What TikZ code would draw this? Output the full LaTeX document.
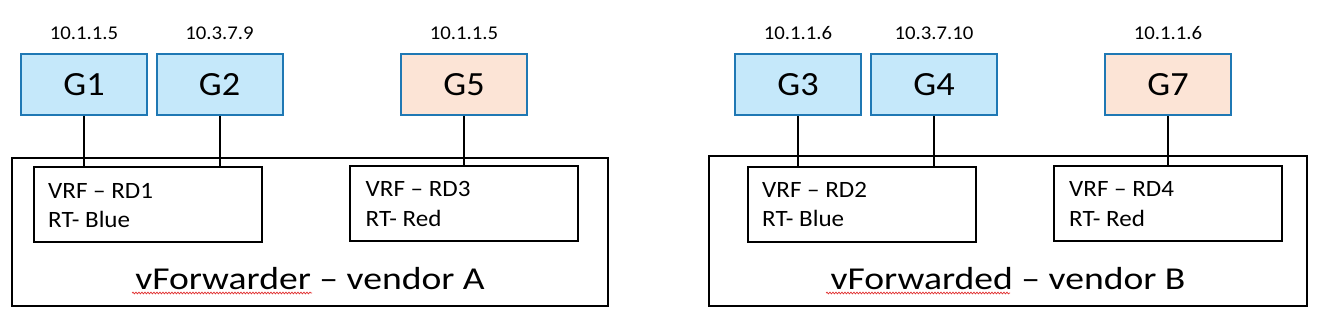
\documentclass[tikz,border=0pt]{standalone}
\usepackage{fontspec}
\setmainfont[FakeStretch=1.07]{Carlito}
\newfontfamily\titlefont[FakeStretch=1.18]{Carlito}
\usetikzlibrary{decorations.pathmorphing}
\definecolor{gblue}{HTML}{C5E8FA}
\definecolor{gpeach}{HTML}{FCE4D6}
\definecolor{gedge}{HTML}{1F78B4}
\definecolor{squig}{HTML}{E03030}
\begin{document}
\begin{tikzpicture}[x=1bp,y=-1bp,
  gbox/.style={draw=gedge,line width=2bp,minimum width=126bp,minimum height=61bp,inner sep=0pt,font=\fontsize{34}{40}\selectfont},
  bluebox/.style={gbox,fill=gblue},
  peachbox/.style={gbox,fill=gpeach},
  iplabel/.style={anchor=base,inner sep=0pt,font=\fontsize{19.5}{23}\selectfont},
  outerbox/.style={draw=black,line width=2bp,minimum width=596bp,minimum height=148bp,inner sep=0pt},
  vrfbox/.style={draw=black,line width=2bp,minimum width=228bp,minimum height=75bp,inner sep=0pt},
  vrftext/.style={anchor=base west,inner sep=0pt,font=\fontsize{23.5}{28}\selectfont},
  titletext/.style={anchor=base,inner sep=0pt,font=\titlefont\fontsize{32}{38}\selectfont},
  conn/.style={draw=black,line width=2bp},
  spell/.style={draw=squig,line width=0.7bp,decorate,decoration={snake,amplitude=0.9bp,segment length=3bp}}
]
\useasboundingbox (0,0) rectangle (1332,325);

% ---------- left panel ----------
\node[outerbox] (va) at (310,232) {};
\node[vrfbox] (rd1) at (148,204.5) {};
\node[vrfbox] (rd3) at (463.5,203) {};
\node[bluebox] (g1) at (84,84.5) {G1};
\node[bluebox] (g2) at (219.5,84.5) {G2};
\node[peachbox] (g5) at (464,84.5) {G5};
\node[iplabel] (ip1) at (84,39) {10.1.1.5};
\node[iplabel] (ip2) at (219.5,39) {10.3.7.9};
\node[iplabel] (ip5) at (464,39) {10.1.1.5};
\node[vrftext] (rd1a) at ([shift={(15,32)}]rd1.north west) {VRF – RD1};
\node[vrftext] (rd1b) at ([shift={(15,61)}]rd1.north west) {RT- Blue};
\node[vrftext] (rd3a) at ([shift={(17,32)}]rd3.north west) {VRF – RD3};
\node[vrftext] (rd3b) at ([shift={(17,62)}]rd3.north west) {RT- Red};
\node[titletext] (ta) at (310,289) {vForwarder – vendor A};
\draw[conn] (g1.south) -- (g1.south |- rd1.north);
\draw[conn] (g2.south) -- (g2.south |- rd1.north);
\draw[conn] (g5.south) -- (g5.south |- rd3.north);
\coordinate (sa1) at (132,293);
\coordinate (sa2) at (312,293);
\draw[spell] (sa1) -- (sa2);

% ---------- right panel ----------
\node[outerbox,minimum width=598bp,minimum height=150bp] (vb) at (1008,231) {};
\node[vrfbox] (rd2) at (862,204) {};
\node[vrfbox] (rd4) at (1168,203) {};
\node[bluebox] (g3) at (798,84.5) {G3};
\node[bluebox] (g4) at (934,84.5) {G4};
\node[peachbox] (g7) at (1168,84.5) {G7};
\node[iplabel] (ip3) at (798,39) {10.1.1.6};
\node[iplabel] (ip4) at (934,39) {10.3.7.10};
\node[iplabel] (ip7) at (1168,39) {10.1.1.6};
\node[vrftext] (rd2a) at ([shift={(15,32)}]rd2.north west) {VRF – RD2};
\node[vrftext] (rd2b) at ([shift={(15,61)}]rd2.north west) {RT- Blue};
\node[vrftext] (rd4a) at ([shift={(16,32)}]rd4.north west) {VRF – RD4};
\node[vrftext] (rd4b) at ([shift={(16,62)}]rd4.north west) {RT- Red};
\node[titletext] (tb) at (1008,289) {vForwarded – vendor B};
\draw[conn] (g3.south) -- (g3.south |- rd2.north);
\draw[conn] (g4.south) -- (g4.south |- rd2.north);
\draw[conn] (g7.south) -- (g7.south |- rd4.north);
\coordinate (sb1) at (826,293);
\coordinate (sb2) at (1010,293);
\draw[spell] (sb1) -- (sb2);
\end{tikzpicture}
\end{document}
